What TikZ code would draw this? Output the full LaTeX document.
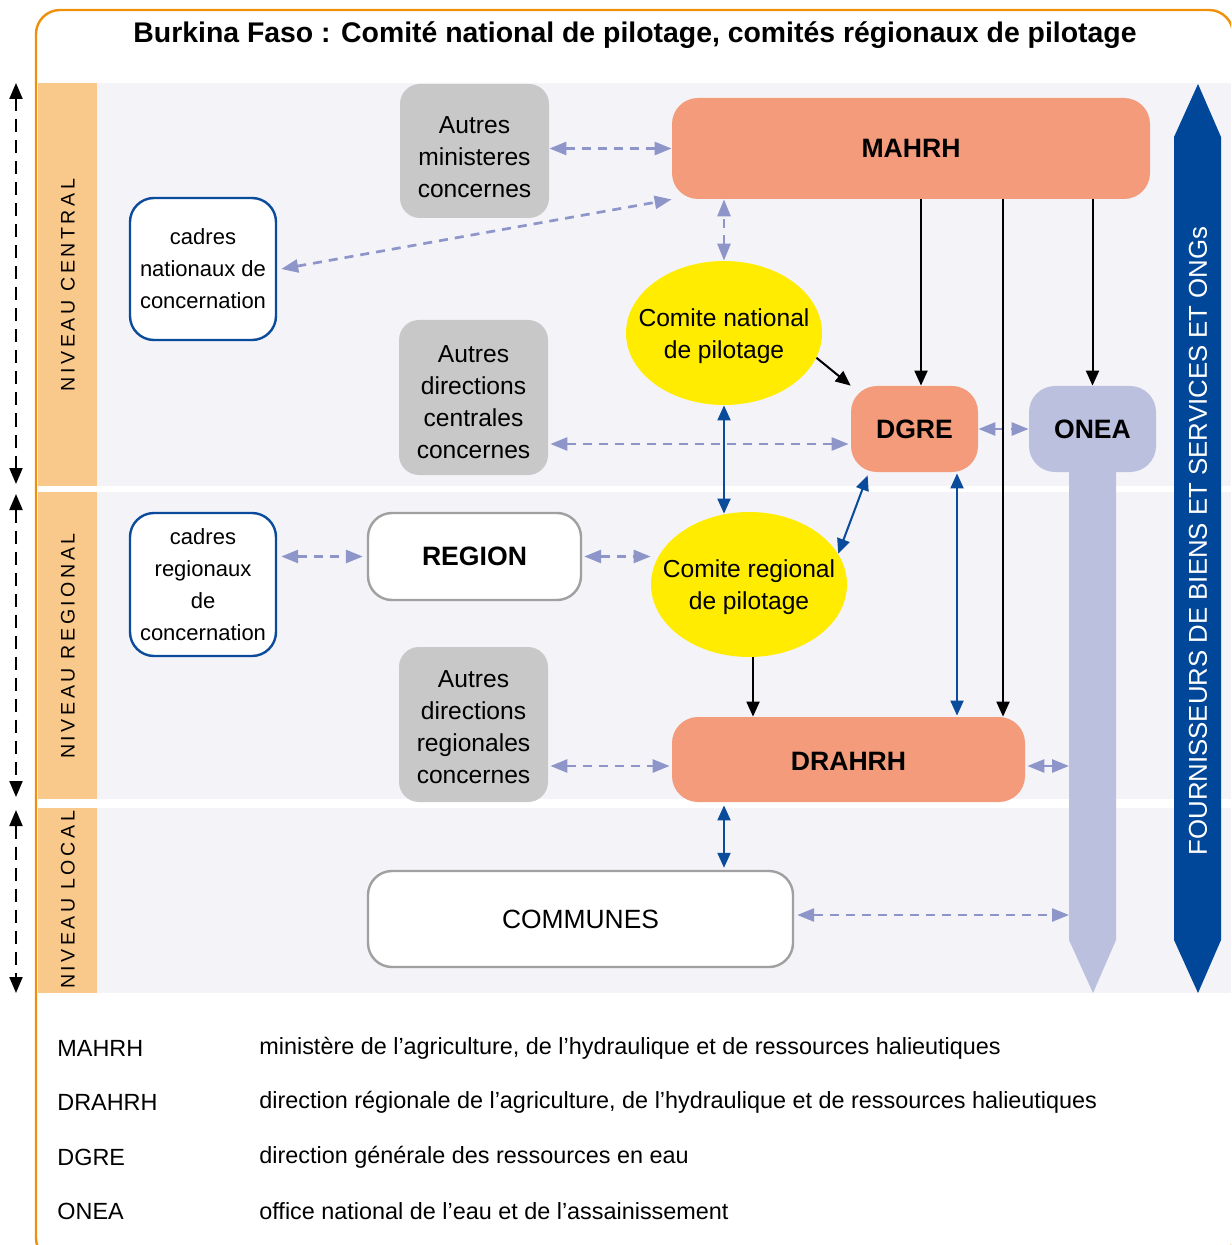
\documentclass[tikz,border=0pt]{standalone}
\usepackage{fontspec}
\setmainfont{Liberation Sans}
\usetikzlibrary{arrows.meta,shapes.geometric}

\definecolor{panelbg}{HTML}{F3F3F8}
\definecolor{peach}{HTML}{F9C98C}
\definecolor{framecol}{HTML}{F0900A}
\definecolor{salmonfill}{HTML}{F39B7A}
\definecolor{boxgray}{HTML}{C8C8C9}
\definecolor{comiteyellow}{HTML}{FFEC00}
\definecolor{lavfill}{HTML}{BCC0DF}
\definecolor{lavline}{HTML}{8E95C9}
\definecolor{deepblue}{HTML}{00479A}
\definecolor{linkblue}{HTML}{0B4B9B}
\definecolor{greyborder}{HTML}{A0A0A0}

% invisible strut that lowers a centred block of lines
\newcommand{\lowerby}[1]{\rule{0pt}{#1}}

\begin{document}
\begin{tikzpicture}[x=0.5pt,y=-0.5pt,
  txt/.style={font=\fontsize{12.3}{16}\selectfont, align=center},
  graybox/.style={txt, rounded corners=10pt, fill=boxgray, minimum width=74.5pt, inner sep=0pt},
  salmonbox/.style={rounded corners=13pt, fill=salmonfill, inner sep=0pt,
    font=\bfseries\fontsize{13.3}{16}\selectfont},
  cadrebox/.style={rounded corners=12pt, draw=linkblue, line width=1.2pt, fill=white,
    minimum width=73pt, minimum height=71pt, inner sep=0pt, align=center,
    font=\fontsize{11}{16}\selectfont},
  whitebox/.style={rounded corners=12pt, draw=greyborder, line width=1.2pt, fill=white, inner sep=0pt},
  comite/.style={txt, ellipse, fill=comiteyellow, minimum width=98pt, minimum height=72pt,
    inner xsep=-9pt, inner ysep=0pt},
  levellabel/.style={rotate=90, font=\fontsize{9.8}{12}\selectfont\addfontfeature{LetterSpace=18}},
  legend/.style={anchor=west, inner sep=0pt, font=\fontsize{11.7}{14}\selectfont},
  lavdash/.style={draw=lavline, line width=1.35pt, dash pattern=on 4.5pt off 3.5pt,
    {Triangle[length=8.5pt,width=6.5pt]}-{Triangle[length=8.5pt,width=6.5pt]}},
  blkarrow/.style={draw=black, line width=1pt, -{Triangle[length=7.5pt,width=6.5pt]}},
  bluearrow/.style={draw=linkblue, line width=1pt,
    {Triangle[length=7.5pt,width=6.5pt]}-{Triangle[length=7.5pt,width=6.5pt]}},
  leveldash/.style={draw=black, line width=1pt, dash pattern=on 6.5pt off 4pt,
    {Triangle[length=8pt,width=6.5pt]}-{Triangle[length=8pt,width=6.5pt]}}
]
\useasboundingbox (0,0) rectangle (1231,1245);
\clip (0,0) rectangle (1231,1245);

% level bands with the peach column on their left
\fill[panelbg] (38,83) rectangle (1231,486);
\fill[panelbg] (38,492) rectangle (1231,799);
\fill[panelbg] (38,808) rectangle (1231,993);
\fill[peach] (38,83) rectangle (97,486);
\fill[peach] (38,492) rectangle (97,799);
\fill[peach] (38,808) rectangle (97,993);

% outer frame
\draw[framecol, line width=1.2pt, rounded corners=12pt] (36,10) rectangle (1233,1262);

% title
\node[font=\bfseries\fontsize{14.2}{17}\selectfont] (title) at (635,35) {Burkina Faso : Comité national de pilotage, comités régionaux de pilotage};

% level labels
\node[levellabel] (lvc) at (68,285) {NIVEAU CENTRAL};
\node[levellabel] (lvr) at (68,646) {NIVEAU REGIONAL};
\node[levellabel] (lvl) at (68,900) {NIVEAU LOCAL};

% level extents on the left
\coordinate (ca) at (16,83);
\coordinate (cb) at (16,484);
\coordinate (ra) at (16,494);
\coordinate (rb) at (16,797);
\coordinate (la) at (16,810);
\coordinate (lb) at (16,993);
\draw[leveldash] (ca) -- (cb);
\draw[leveldash] (ra) -- (rb);
\draw[leveldash] (la) -- (lb);

% suppliers arrow
\fill[deepblue] (1174,137) -- (1198,84) -- (1221,137) -- (1221,940) -- (1198,993) -- (1174,940) -- cycle;
\node[rotate=90, text=white, font=\fontsize{12.9}{15}\selectfont] (suppliers) at (1198,541)
  {FOURNISSEURS DE BIENS ET SERVICES ET ONGs};

% ONEA band
\fill[lavfill] (1069,450) -- (1116,450) -- (1116,940) -- (1093,993) -- (1069,940) -- cycle;
\coordinate (bandleft) at (1069,500);

% nodes
\node[graybox, minimum height=67pt] (mini) at (474.5,151) {\lowerby{15pt}Autres\\ministeres\\concernes};
\node[salmonbox, minimum width=239pt, minimum height=50.5pt] (mahrh) at (911,148.5) {MAHRH};
\node[cadrebox] (cadn) at (203,269) {cadres\\nationaux de\\concernation};
\node[comite] (cnp) at (724,333) {\lowerby{12pt}Comite national\\de pilotage};
\node[graybox, minimum height=77.5pt] (adc) at (473.5,397.5) {\lowerby{13pt}Autres\\directions\\centrales\\concernes};
\node[salmonbox, minimum width=63.5pt, minimum height=43pt] (dgre) at (914.5,429) {DGRE};
\node[rounded corners=13pt, fill=lavfill, minimum width=63.5pt, minimum height=43pt, inner sep=0pt,
  font=\bfseries\fontsize{13.3}{16}\selectfont] (onea) at (1092.5,429) {ONEA};
\node[cadrebox, minimum height=71.5pt] (cadr) at (203,584.5) {cadres\\regionaux\\de\\concernation};
\node[whitebox, minimum width=106.5pt, minimum height=43.5pt, font=\bfseries\fontsize{13.3}{16}\selectfont] (region) at (474.5,556.5) {REGION};
\node[comite, minimum height=72.5pt] (crp) at (749,584.5) {\lowerby{12pt}Comite regional\\de pilotage};
\node[graybox, minimum height=77.5pt] (adr) at (473.5,724.5) {\lowerby{11pt}Autres\\directions\\regionales\\concernes};
\node[salmonbox, minimum width=176.5pt, minimum height=42.5pt] (drahrh) at (848.5,759.5) {\lowerby{11pt}DRAHRH};
\node[whitebox, minimum width=212.5pt, minimum height=48pt, font=\fontsize{13.2}{16}\selectfont] (communes) at (580.5,919) {COMMUNES};

% helper coordinates for connector positions
\coordinate (xdg) at (921,0);
\coordinate (xdr) at (1003,0);
\coordinate (xbl) at (957,0);
\coordinate (x724) at (724,0);
\coordinate (x753) at (753,0);
\coordinate (y444) at (0,444);
\coordinate (y766) at (0,766);
\coordinate (dgresw) at ([xshift=8.5pt,yshift=-1.5pt]dgre.south west);

% dashed consultation links
\draw[lavdash] (mini.east |- mahrh.west) -- (mahrh.west);
\draw[lavdash] ([xshift=2pt]cadn.east) -- (mahrh.south west);
\draw[lavdash] (cnp.north) -- (cnp.north |- mahrh.south);
\draw[lavdash] ([xshift=1pt]adc.east |- y444) -- ([xshift=-1pt]dgre.west |- y444);
\draw[lavdash] (dgre.east) -- (onea.west);
\draw[lavdash] ([xshift=2pt]cadr.east |- region.west) -- ([xshift=-2pt]region.west);
\draw[lavdash] ([xshift=1pt]region.east) -- (region.east -| crp.west);
\draw[lavdash] ([xshift=1pt]adr.east |- y766) -- ([xshift=-1pt]drahrh.west |- y766);
\draw[lavdash] ([xshift=1pt]drahrh.east |- y766) -- (bandleft |- y766);
\draw[lavdash] ([xshift=1.5pt]communes.east |- 0,915) -- (bandleft |- 0,915);

% hierarchical links
\draw[blkarrow] (xdg |- mahrh.south) -- (xdg |- dgre.north);
\draw[blkarrow] (xdr |- mahrh.south) -- (xdr |- drahrh.north);
\draw[blkarrow] (onea.north |- mahrh.south) -- (onea.north);
\draw[blkarrow] (cnp.-15) -- (dgre.north west);
\draw[blkarrow] (x753 |- crp.south) -- (x753 |- drahrh.north);

% two-way links
\draw[bluearrow] (cnp.south) -- ([yshift=-1pt]x724 |- crp.north);
\draw[bluearrow] (crp.19) -- (dgresw);
\draw[bluearrow] ([yshift=-0.5pt]xbl |- dgre.south) -- ([yshift=0.5pt]xbl |- drahrh.north);
\draw[bluearrow] ([yshift=-1.5pt]x724 |- drahrh.south) -- ([yshift=1pt]x724 |- communes.north);

% legend
\node[legend] (k1) at (57,1048) {MAHRH};
\node[legend] (d1) at (259,1048) {ministère de l’agriculture, de l’hydraulique et de ressources halieutiques};
\node[legend] (k2) at (57,1102) {DRAHRH};
\node[legend] (d2) at (259,1102) {direction régionale de l’agriculture, de l’hydraulique et de ressources halieutiques};
\node[legend] (k3) at (57,1157) {DGRE};
\node[legend] (d3) at (259,1157) {direction générale des ressources en eau};
\node[legend] (k4) at (57,1211) {ONEA};
\node[legend] (d4) at (259,1211) {office national de l’eau et de l’assainissement};
\end{tikzpicture}
\end{document}
